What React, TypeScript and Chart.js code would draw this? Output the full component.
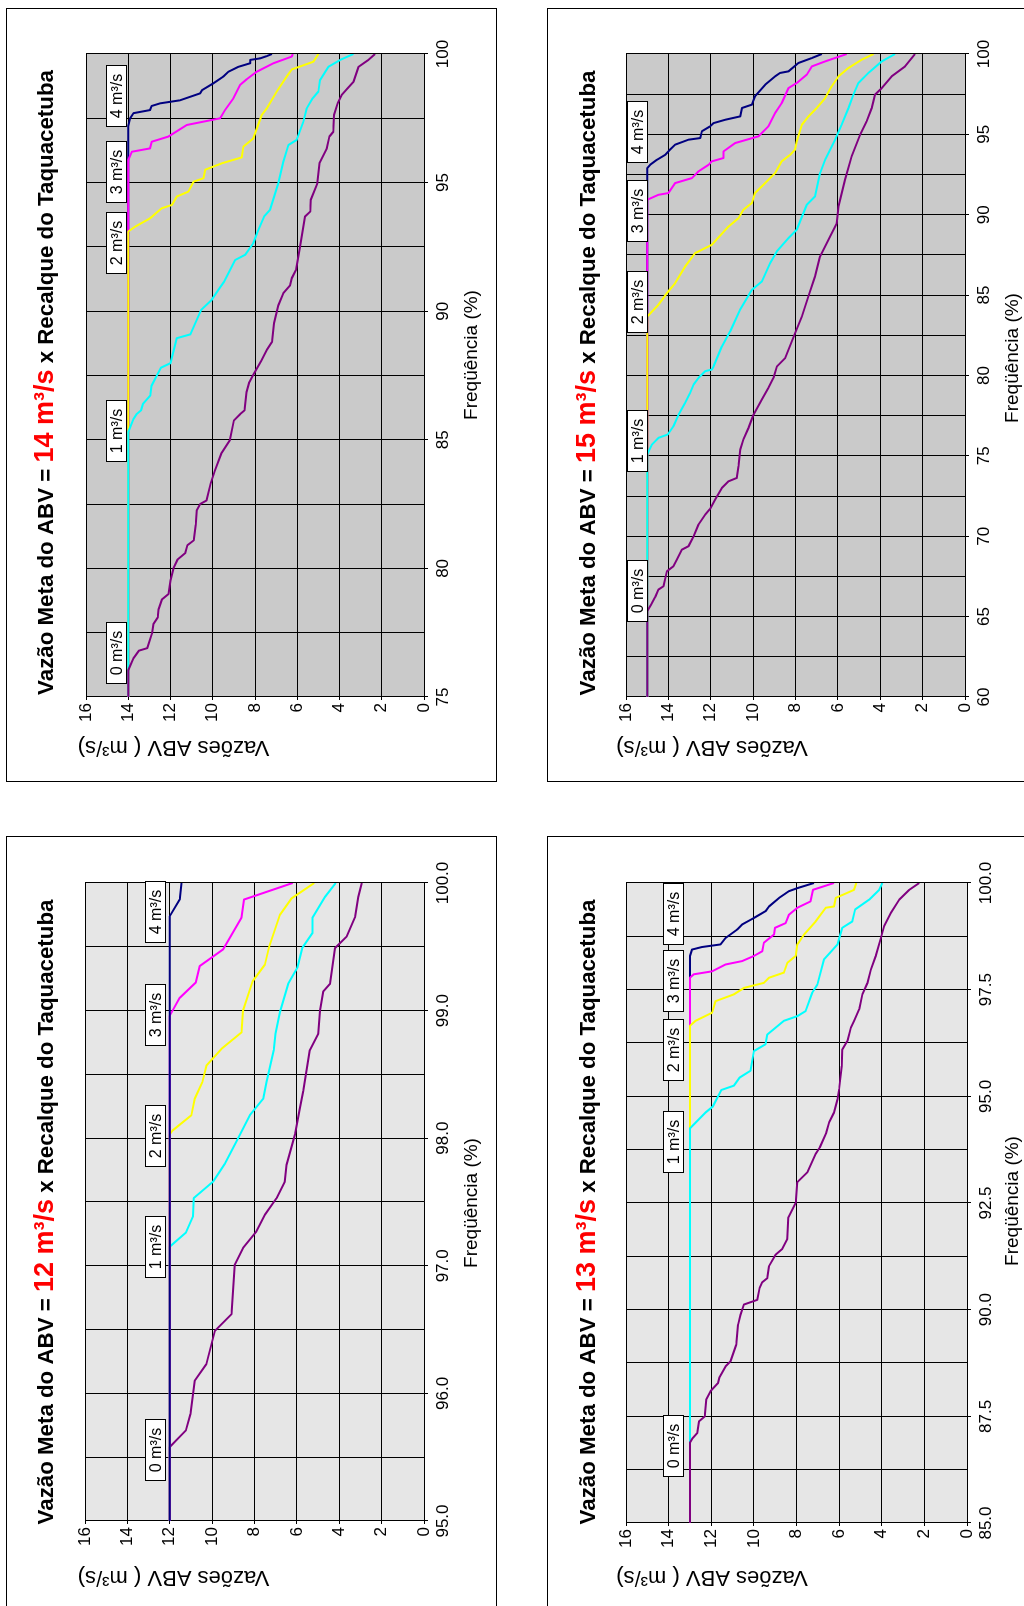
import React, { useEffect, useRef } from 'react';
import { Chart, registerables } from 'chart.js';

Chart.register(...registerables);

const FONT = '"Liberation Sans", Arial, Helvetica, sans-serif';
Chart.defaults.font.family = FONT;
Chart.defaults.color = '#000';

type Pt = [number, number];

// ---------- DATA: Vazão Meta 12 m³/s (x: Freqüência %, y: Vazões ABV m³/s) ----------
const meta12_0: Pt[] = [[95.0,12],[95.58,12],[95.71,11.24],[95.84,11.02],[96.1,10.82],[96.23,10.27],[96.49,9.87],[96.62,9.09],[97.01,8.93],[97.14,8.54],[97.27,7.91],[97.4,7.51],[97.53,6.96],[97.66,6.57],[97.79,6.49],[98.03,6.09],[98.23,5.86],[98.37,5.7],[98.69,5.39],[98.82,4.99],[99.0,4.91],[99.15,4.76],[99.21,4.44],[99.49,4.2],[99.58,3.65],[99.73,3.26],[99.89,3.1],[100,2.94]];
const meta12_1: Pt[] = [[95,12],[97.15,12],[97.26,11.24],[97.39,10.9],[97.53,10.87],[97.66,9.95],[97.8,9.4],[98.0,8.77],[98.18,8.22],[98.31,7.59],[98.44,7.43],[98.69,7.09],[98.82,7.01],[98.99,6.8],[99.21,6.41],[99.34,5.97],[99.49,5.75],[99.61,5.26],[99.73,5.26],[99.89,4.68],[100,4.17]];
const meta12_2: Pt[] = [[95,12],[98.03,12],[98.06,11.87],[98.18,10.98],[98.31,10.82],[98.44,10.46],[98.57,10.27],[98.7,9.56],[98.83,8.61],[99.0,8.54],[99.23,8.09],[99.36,7.51],[99.5,7.31],[99.75,6.8],[99.88,6.25],[100,5.18]];
const meta12_3: Pt[] = [[95,12],[98.96,12],[99.1,11.53],[99.22,10.77],[99.35,10.58],[99.48,9.48],[99.73,8.61],[99.87,8.5],[100,6.2]];
const meta12_4: Pt[] = [[95,12],[99.74,12],[99.87,11.53],[100,11.45]];

// ---------- DATA: Vazão Meta 13 m³/s ----------
const meta13_0: Pt[] = [[85,13],[86.88,13],[86.99,12.87],[87.11,12.66],[87.38,12.58],[87.5,12.3],[87.89,12.24],[88.09,12.03],[88.28,11.68],[88.42,11.61],[88.67,11.33],[88.79,11.1],[89.18,10.83],[89.65,10.74],[89.88,10.63],[90.12,10.47],[90.23,9.84],[90.51,9.73],[90.64,9.61],[90.74,9.37],[91.02,9.29],[91.29,8.98],[91.42,8.67],[91.66,8.43],[92.15,8.39],[92.5,8.04],[92.99,7.96],[93.22,7.49],[93.65,7.1],[93.8,6.91],[94.15,6.6],[94.39,6.47],[94.62,6.24],[94.93,6.08],[95.17,6.0],[95.71,5.88],[96.1,5.85],[96.3,5.61],[96.61,5.45],[96.77,5.3],[97.04,5.06],[97.39,4.91],[97.66,4.67],[97.97,4.51],[98.29,4.28],[98.71,4.04],[98.99,3.89],[99.3,3.57],[99.61,3.18],[99.84,2.71],[100,2.24]];
const meta13_1: Pt[] = [[85,13],[94.25,13],[94.62,12.27],[94.76,11.93],[95.15,11.52],[95.25,10.94],[95.44,10.67],[95.6,10.16],[96.06,10.0],[96.22,9.45],[96.45,9.37],[96.77,8.59],[96.88,7.96],[97.0,7.57],[97.43,7.26],[97.62,7.02],[98.21,6.71],[98.56,6.08],[98.95,5.85],[99.1,5.38],[99.38,5.25],[99.61,4.59],[99.84,4.12],[100,3.97]];
const meta13_2: Pt[] = [[85,13],[96.65,13],[96.77,12.74],[96.96,11.96],[97.23,11.8],[97.39,10.94],[97.54,10.47],[97.66,9.53],[97.78,9.29],[97.9,8.59],[98.13,8.43],[98.29,8.04],[98.56,7.96],[98.79,7.65],[99.1,7.1],[99.42,6.63],[99.45,6.24],[99.65,6.16],[99.84,5.3],[100,5.19]];
const meta13_3: Pt[] = [[85,13],[97.78,13],[97.86,12.82],[97.93,11.96],[98.09,11.33],[98.17,10.55],[98.29,10.0],[98.4,9.61],[98.6,9.53],[98.79,9.06],[98.95,9.01],[99.06,8.51],[99.26,8.35],[99.42,7.96],[99.57,7.34],[99.84,7.23],[100,6.24]];
const meta13_4: Pt[] = [[85,13],[98.29,13],[98.44,12.9],[98.5,12.43],[98.56,11.57],[98.71,11.33],[98.91,10.78],[99.03,10.55],[99.18,10.0],[99.34,9.45],[99.45,9.29],[99.65,8.82],[99.81,8.35],[99.88,7.96],[100,7.18]];

// ---------- DATA: Vazão Meta 14 m³/s ----------
const meta14_0: Pt[] = [[75,14],[76.04,14],[76.5,13.76],[76.8,13.5],[76.9,13.1],[77.46,12.88],[77.85,12.8],[78.1,12.6],[78.4,12.57],[78.8,12.4],[79.0,12.1],[79.53,12.0],[80.0,11.86],[80.34,11.67],[80.6,11.3],[80.9,11.2],[81.09,10.9],[81.7,10.8],[82.25,10.76],[82.5,10.6],[82.64,10.3],[83.3,10.1],[83.8,9.9],[84.46,9.6],[84.97,9.2],[85.75,9.0],[86.0,8.7],[86.14,8.5],[86.85,8.4],[87.24,8.27],[87.5,8.1],[88.08,7.7],[88.5,7.44],[88.8,7.2],[89.53,7.1],[90.22,6.9],[90.7,6.66],[91.0,6.34],[91.28,6.26],[91.6,6.06],[92.5,5.87],[93.68,5.63],[93.87,5.39],[94.33,5.36],[94.97,5.05],[95.75,4.95],[96.33,4.6],[96.79,4.48],[96.98,4.29],[97.63,4.26],[98.08,4.09],[98.4,3.9],[98.63,3.66],[98.92,3.34],[99.5,3.1],[99.77,2.63],[100,2.32]];
const meta14_1: Pt[] = [[75,14],[85.3,14],[85.8,13.76],[86.0,13.6],[86.14,13.4],[86.4,13.3],[86.72,12.96],[87.1,12.9],[87.5,12.65],[87.8,12.46],[87.98,12.0],[88.95,11.7],[89.1,11.06],[90.05,10.55],[90.44,10.05],[90.83,9.73],[91.15,9.46],[91.99,8.94],[92.19,8.47],[92.64,8.08],[93.0,7.92],[93.68,7.57],[93.94,7.29],[94.97,6.9],[95.8,6.66],[96.46,6.42],[96.66,6.03],[97.37,5.71],[97.89,5.55],[98.28,5.27],[98.54,5.0],[98.99,4.92],[99.5,4.53],[99.77,3.97],[100,3.34]];
const meta14_2: Pt[] = [[75,14],[93.1,14],[93.29,13.67],[93.61,12.97],[94.0,12.42],[94.13,11.94],[94.46,11.7],[94.65,11.15],[95.04,10.9],[95.17,10.44],[95.5,10.36],[95.75,9.57],[95.98,8.63],[96.4,8.55],[96.72,8.08],[97.63,7.68],[97.89,7.44],[98.54,6.97],[99.12,6.5],[99.4,6.26],[99.7,5.24],[100,5.0]];
const meta14_3: Pt[] = [[75,14],[95.88,14],[96.2,13.83],[96.33,12.97],[96.59,12.89],[96.79,12.1],[97.24,11.23],[97.5,9.65],[97.82,9.42],[98.28,9.02],[98.8,8.7],[99.02,8.39],[99.31,7.92],[99.64,7.13],[99.9,6.26],[100,6.21]];
const meta14_4: Pt[] = [[75,14],[97.2,14],[97.5,13.91],[97.7,13.75],[97.82,12.97],[97.98,12.89],[98.08,12.5],[98.2,11.55],[98.47,10.6],[98.6,10.5],[98.86,9.97],[99.12,9.5],[99.31,9.26],[99.5,8.79],[99.64,8.23],[99.77,8.23],[99.83,7.76],[99.92,7.44],[100,7.2]];

// ---------- DATA: Vazão Meta 15 m³/s ----------
const meta15_0: Pt[] = [[60,15],[65.33,15],[65.75,14.81],[66.22,14.62],[66.68,14.47],[66.89,14.23],[67.82,14.07],[68.13,13.76],[68.55,13.6],[69.17,13.36],[69.38,13.05],[70.0,12.81],[70.73,12.58],[71.35,12.26],[71.7,12.03],[72.28,11.79],[73.0,11.48],[73.42,11.16],[73.63,10.77],[74.36,10.69],[75.39,10.61],[76.02,10.46],[76.74,10.22],[77.57,9.98],[78.51,9.59],[79.23,9.28],[79.85,9.04],[80.56,8.88],[81.08,8.49],[82.64,8.02],[83.67,7.7],[84.92,7.39],[86.16,7.08],[87.41,6.84],[88.65,6.37],[89.48,6.05],[90.52,5.97],[92.18,5.66],[93.63,5.35],[94.98,4.95],[95.81,4.64],[96.64,4.4],[97.47,4.25],[97.88,3.93],[98.61,3.46],[99.23,2.83],[100,2.36]];
const meta15_1: Pt[] = [[60,15],[75.08,15],[75.7,14.78],[76.12,14.47],[76.33,14.03],[76.85,13.76],[77.57,13.52],[78.3,13.21],[78.92,12.97],[79.44,12.81],[79.85,12.58],[80.27,12.26],[80.37,11.95],[80.56,11.87],[81.8,11.48],[82.75,11.08],[84.1,10.61],[85.33,10.06],[85.85,9.59],[86.99,9.2],[87.72,8.88],[88.55,8.33],[89.07,7.94],[90.62,7.47],[91.14,7.08],[92.59,6.84],[93.42,6.6],[94.67,6.13],[95.6,5.82],[96.64,5.5],[97.47,5.27],[98.2,5.03],[98.82,4.56],[99.54,3.93],[100,3.3]];
const meta15_2: Pt[] = [[60,15],[83.67,15],[84.4,14.47],[85.12,14.07],[85.75,13.68],[86.78,13.21],[87.61,12.74],[88.13,11.95],[89.27,11.16],[89.79,10.69],[90.31,10.46],[90.73,10.06],[91.35,9.91],[91.76,9.59],[92.59,8.96],[93.32,8.65],[93.73,8.25],[94.05,8.02],[94.56,7.94],[95.6,7.7],[96.12,7.39],[96.64,7.0],[97.26,6.6],[97.99,6.29],[98.61,5.97],[99.13,5.5],[99.65,4.87],[100,4.32]];
const meta15_3: Pt[] = [[60,15],[90.93,15],[91.24,14.47],[91.35,14.0],[91.97,13.68],[92.28,12.89],[92.7,12.58],[93.11,12.1],[93.32,11.95],[93.53,11.4],[93.94,11.4],[94.46,10.85],[94.88,9.75],[95.5,9.28],[96.33,8.96],[96.95,8.65],[97.88,8.33],[98.2,7.94],[98.71,7.47],[99.23,7.23],[99.54,6.6],[100,5.58]];
const meta15_4: Pt[] = [[60,15],[92.9,15],[93.11,14.86],[93.42,14.54],[93.73,14.15],[94.05,13.92],[94.36,13.68],[94.67,13.05],[94.77,12.5],[95.19,12.42],[95.5,12.03],[95.7,11.87],[95.91,11.32],[96.12,10.61],[96.64,10.53],[96.85,10.06],[97.37,9.91],[98.09,9.43],[98.61,8.96],[98.82,8.73],[98.92,8.33],[99.44,7.86],[99.75,7.23],[100,6.76]];

// Series labels and where the label boxes sit (frequency, flow)
const seriesNames = ['0 m³/s', '1 m³/s', '2 m³/s', '3 m³/s', '4 m³/s'];
const labelFreq12 = [95.55, 97.14, 98.01, 98.96, 99.77];
const labelFreq13 = [86.79, 93.91, 96.07, 97.69, 99.27];
const labelFreq14 = [76.71, 85.32, 92.62, 95.38, 98.36];
const labelFreq15 = [66.58, 75.92, 84.56, 90.21, 95.14];

const yTicksMax = 16;
const yTickStep = 2;

const COLORS = ['#800080', '#00ffff', '#ffff00', '#ff00ff', '#000080'];

const CW = 773; // chart long side
const CH = 490; // chart short side
const TICK_FONT = 17;

interface PanelCfg {
  meta: string;
  ox: number; oy: number;
  xMin: number; xMax: number; xStep: number; xMajor: number; decimals: number;
  area: { l: number; r: number; t: number; b: number };
  series: Pt[][];
  labelFreq: number[];
  labelFlow: number;
  bg: string;
  navyTop: boolean;
  titleCx: number; titleBase: number;
  xTitleCx: number; xTitleCy: number;
  yTitleCx: number; yTitleCy: number;
}

const panels: PanelCfg[] = [
  {
    meta: '14', ox: 6, oy: 8, xMin: 75, xMax: 100, xStep: 2.5, xMajor: 5, decimals: 0,
    area: { l: 84, r: 727, t: 80, b: 418 },
    series: [meta14_0, meta14_1, meta14_2, meta14_3, meta14_4],
    labelFreq: labelFreq14, labelFlow: 14.57, bg: '#cacaca', navyTop: false,
    titleCx: 398.5, titleBase: 47, xTitleCx: 426, xTitleCy: 466, yTitleCx: 33.5, yTitleCy: 167.5,
  },
  {
    meta: '15', ox: 547, oy: 8, xMin: 60, xMax: 100, xStep: 2.5, xMajor: 5, decimals: 0,
    area: { l: 84, r: 727, t: 79, b: 418 },
    series: [meta15_0, meta15_1, meta15_2, meta15_3, meta15_4],
    labelFreq: labelFreq15, labelFlow: 15.47, bg: '#cacaca', navyTop: false,
    titleCx: 398, titleBase: 48, xTitleCx: 423, xTitleCy: 466, yTitleCx: 33.5, yTitleCy: 165,
  },
  {
    meta: '12', ox: 6, oy: 836, xMin: 95, xMax: 100, xStep: 0.5, xMajor: 1, decimals: 1,
    area: { l: 88, r: 726, t: 79, b: 418 },
    series: [meta12_0, meta12_1, meta12_2, meta12_3, meta12_4],
    labelFreq: labelFreq12, labelFlow: 12.68, bg: '#e6e6e6', navyTop: true,
    titleCx: 397, titleBase: 47, xTitleCx: 406, xTitleCy: 466, yTitleCx: 32, yTitleCy: 167.5,
  },
  {
    meta: '13', ox: 547, oy: 836, xMin: 85, xMax: 100, xStep: 1.25, xMajor: 2.5, decimals: 1,
    area: { l: 86, r: 726, t: 79, b: 420 },
    series: [meta13_0, meta13_1, meta13_2, meta13_3, meta13_4],
    labelFreq: labelFreq13, labelFlow: 13.8, bg: '#e6e6e6', navyTop: false,
    titleCx: 397, titleBase: 48, xTitleCx: 408, xTitleCy: 466, yTitleCx: 32, yTitleCy: 165,
  },
];

function isMajor(v: number, major: number) {
  const q = v / major;
  return Math.abs(q - Math.round(q)) < 1e-6;
}

function makeOverlay(cfg: PanelCfg) {
  return {
    id: 'overlay' + cfg.meta,
    beforeDraw(chart: any) {
      const { ctx, chartArea: a } = chart;
      ctx.save();
      ctx.fillStyle = cfg.bg;
      ctx.fillRect(a.left, a.top, a.right - a.left, a.bottom - a.top);
      ctx.restore();
    },
    afterDatasetsDraw(chart: any) {
      const { ctx } = chart;
      const xs = chart.scales.x;
      const ys = chart.scales.y;
      ctx.save();
      ctx.font = `16px ${FONT}`;
      ctx.textAlign = 'center';
      ctx.textBaseline = 'middle';
      cfg.labelFreq.forEach((f, i) => {
        const px = xs.getPixelForValue(f);
        const py = ys.getPixelForValue(cfg.labelFlow);
        const w = 61, h = 20;
        const x0 = Math.round(px - w / 2) + 0.5;
        const y0 = Math.round(py - h / 2) + 0.5;
        ctx.fillStyle = '#fff';
        ctx.fillRect(x0, y0, w, h);
        ctx.strokeStyle = '#000';
        ctx.lineWidth = 1;
        ctx.strokeRect(x0, y0, w, h);
        ctx.fillStyle = '#000';
        ctx.fillText(seriesNames[i], x0 + w / 2, y0 + h / 2 + 1);
      });
      ctx.restore();
    },
    afterDraw(chart: any) {
      const { ctx } = chart;
      ctx.save();
      // main title with red target value
      const parts = [
        { t: 'Vazão Meta do ABV = ', c: '#000000', s: 22.3 },
        { t: `${cfg.meta} m³/s`, c: '#ff0000', s: 27 },
        { t: ' x Recalque do Taquacetuba', c: '#000000', s: 22.3 },
      ];
      let total = 0;
      const widths = parts.map((p) => {
        ctx.font = `bold ${p.s}px ${FONT}`;
        const w = ctx.measureText(p.t).width;
        total += w;
        return w;
      });
      let x = cfg.titleCx - total / 2;
      ctx.textAlign = 'left';
      ctx.textBaseline = 'alphabetic';
      parts.forEach((p, i) => {
        ctx.font = `bold ${p.s}px ${FONT}`;
        ctx.fillStyle = p.c;
        ctx.fillText(p.t, x, cfg.titleBase);
        x += widths[i];
      });
      // x axis title
      ctx.font = `19px ${FONT}`;
      ctx.fillStyle = '#000';
      ctx.textAlign = 'center';
      ctx.textBaseline = 'middle';
      ctx.fillText('Freqüência (%)', cfg.xTitleCx, cfg.xTitleCy);
      // y axis title
      ctx.translate(cfg.yTitleCx, cfg.yTitleCy);
      ctx.rotate(-Math.PI / 2);
      ctx.font = `22px ${FONT}`;
      ctx.fillText('Vazões ABV ( m³/s)', 0, 0);
      ctx.restore();
    },
  };
}

function Panel({ cfg }: { cfg: PanelCfg }) {
  const ref = useRef<HTMLCanvasElement>(null);
  useEffect(() => {
    const a = cfg.area;
    const chart = new Chart(ref.current as HTMLCanvasElement, {
      type: 'line',
      data: {
        datasets: cfg.series.map((s, i) => ({
          label: seriesNames[i],
          data: s.map(([x, y]) => ({ x, y })),
          borderColor: COLORS[i],
          backgroundColor: COLORS[i],
          borderWidth: 2,
          pointRadius: 0,
          fill: false,
          tension: 0,
          borderJoinStyle: 'round',
          order: cfg.navyTop ? 4 - i : i,
        })),
      },
      options: {
        responsive: false,
        animation: false,
        devicePixelRatio: 1,
        events: [],
        layout: { padding: { left: 0, top: a.t, right: CW - a.r, bottom: 0 }, autoPadding: false },
        plugins: { legend: { display: false }, tooltip: { enabled: false }, title: { display: false } },
        scales: {
          x: {
            type: 'linear',
            min: cfg.xMin,
            max: cfg.xMax,
            afterFit: (s: any) => { s.height = CH - a.b; s.paddingLeft = 0; s.paddingRight = 0; },
            ticks: {
              stepSize: cfg.xStep,
              autoSkip: false,
              maxRotation: 0,
              minRotation: 0,
              padding: 5,
              color: '#000',
              font: { size: TICK_FONT },
              callback: (v: any) => (isMajor(Number(v), cfg.xMajor) ? Number(v).toFixed(cfg.decimals) : ''),
            },
            grid: {
              color: '#000',
              lineWidth: 1,
              tickLength: 4,
              tickColor: (ctx: any) => (ctx.tick && isMajor(ctx.tick.value, cfg.xMajor) ? '#000' : 'rgba(0,0,0,0)'),
            },
            border: { color: '#000', width: 1 },
          },
          y: {
            type: 'linear',
            min: 0,
            max: yTicksMax,
            afterFit: (s: any) => { s.width = a.l; s.paddingTop = 0; s.paddingBottom = 0; },
            ticks: { stepSize: yTickStep, padding: 3, color: '#000', font: { size: TICK_FONT } },
            grid: { color: '#000', lineWidth: 1, tickLength: 3 },
            border: { color: '#000', width: 1 },
          },
        },
      } as any,
      plugins: [makeOverlay(cfg)],
    });
    return () => chart.destroy();
  }, [cfg]);

  return (
    <>
      <div
        style={{
          position: 'absolute', left: cfg.ox, top: cfg.oy, width: 491, height: 774,
          border: '1px solid #000', boxSizing: 'border-box', background: '#fff',
        }}
      />
      <canvas
        ref={ref}
        width={CW}
        height={CH}
        style={{
          position: 'absolute', left: cfg.ox, top: cfg.oy, width: CW, height: CH,
          transformOrigin: '0 0', transform: `translate(0px, ${CW}px) rotate(-90deg)`,
        }}
      />
    </>
  );
}

export default function App() {
  return (
    <div style={{ position: 'absolute', left: 0, top: 0, width: 1024, height: 1606, overflow: 'hidden', background: '#fff' }}>
      {panels.map((p) => (
        <Panel key={p.meta} cfg={p} />
      ))}
    </div>
  );
}
